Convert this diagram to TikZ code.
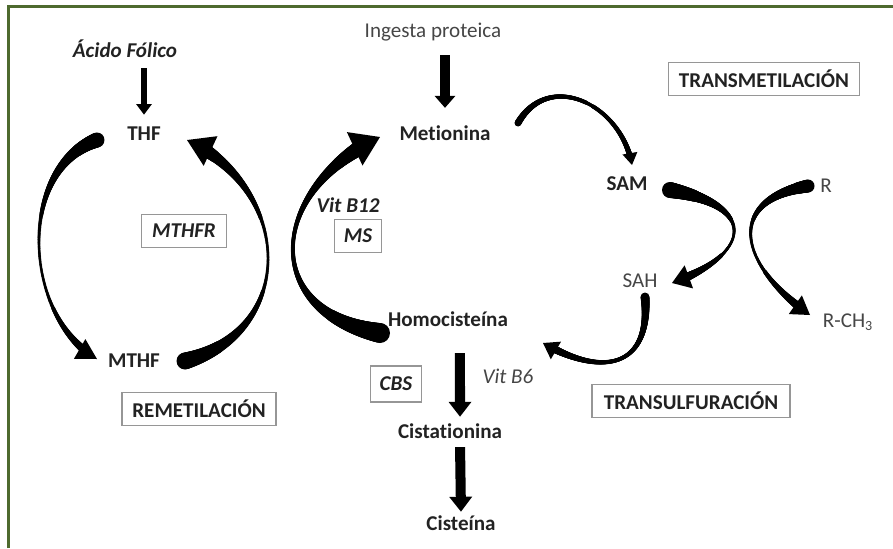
\documentclass[tikz,border=0pt]{standalone}
\usepackage{fontspec}
\setmainfont{Carlito}[Ligatures=CommonOff]
\usetikzlibrary{arrows.meta, calc}
\definecolor{framegreen}{RGB}{78,106,46}
\definecolor{labelink}{RGB}{34,34,34}
\definecolor{softink}{RGB}{70,70,70}
\definecolor{boxline}{RGB}{150,150,150}

% tapered body of a curved arrow along (#1a) .. (#1b) and (#1c) .. (#1d)
% widths in px: #2 start, #3 middle, #4 end; #5 last curve time
\newcommand{\taperarc}[5]{%
    \foreach \arcs in {0,0.003,...,#5}{%
        \pgfmathsetmacro\arcr{0.2845*max(1.2,(1-\arcs)^2*#2+2*\arcs*(1-\arcs)*(2*#3-0.5*(#2+#4))+\arcs^2*#4)}%
        \pgfpathcircle{\pgfpointcurveattime{\arcs}{\pgfpointanchor{#1a}{center}}{\pgfpointanchor{#1b}{center}}{\pgfpointanchor{#1c}{center}}{\pgfpointanchor{#1d}{center}}}{\arcr pt}%
        \pgfusepath{fill}%
    }%
}
% head of that arrow: #2 half width, #3 length
\newcommand{\taperhead}[3]{%
    \coordinate (#1base) at ($(#1d)!#3!(#1c)$);
    \fill ($(#1base)!#2!90:(#1d)$) -- (#1d) -- ($(#1base)!#2!-90:(#1d)$) -- cycle;
}

\begin{document}
\begin{tikzpicture}[x=0.02cm, y=-0.02cm,
    lbl/.style={font=\fontsize{12}{14}\selectfont\bfseries, text=labelink, inner sep=1pt, text height=9pt, text depth=2.5pt},
    emph/.style={lbl, font=\fontsize{12}{14}\selectfont\bfseries\itshape},
    plain/.style={lbl, font=\fontsize{12}{14}\selectfont, text=softink},
    tag/.style={draw=boxline, line width=0.7pt, font=\fontsize{12}{14}\selectfont\bfseries, text=labelink, inner xsep=2pt, minimum height=18.8pt},
    feed/.style={-{Triangle[length=8pt,width=12pt]}, line width=5.7pt}]

    \useasboundingbox (0,0) rectangle (893,548);
    % Frame
    \draw[framegreen, line width=1.7pt] (8.5,548) -- (8.5,6.5) -- (893,6.5);

    % Remetilacion
    \node[emph] (acido) at (125,52) {Ácido Fólico};
    \node[lbl] (thf) at (144,135) {THF};
    \node[lbl] (mthf) at (134,362) {MTHF};
    \node[tag, font=\fontsize{12}{14}\selectfont\bfseries\itshape, minimum width=48.4pt] (mthfr) at (184,231) {MTHFR};
    \node[tag, minimum width=87.6pt] (remet) at (199,409) {REMETILACIÓN};

    \draw[feed, line width=3.2pt, -{Triangle[length=6pt,width=8.5pt]}, shorten <=2.3pt, shorten >=4.6pt] (acido.south -| thf) -- (thf.north);

    \coordinate (thfarca) at ($(thf)+(-47,5)$);
    \coordinate (thfarcb) at ($(thfarca)+(-80.5,29.3)$);
    \coordinate (thfarcd) at ($(mthf)+(-37,-3)$);
    \coordinate (thfarcc) at ($(thfarcd)+(-74.2,-42.9)$);
    \taperarc{thfarc}{15}{3}{10}{0.96}
    \taperhead{thfarc}{6.5pt}{11.4pt}

    \coordinate (mthfarca) at ($(mthf)+(51,-1)$);
    \coordinate (mthfarcb) at ($(mthfarca)+(112.8,-30.2)$);
    \coordinate (mthfarcd) at ($(thf)+(43,5)$);
    \coordinate (mthfarcc) at ($(mthfarcd)+(105.9,49.4)$);
    \taperarc{mthfarc}{17}{3}{16}{0.95}
    \taperhead{mthfarc}{9.3pt}{14.8pt}

    % Metionina and Homocisteina
    \node[plain] (ingesta) at (433,32) {Ingesta proteica};
    \node[lbl] (met) at (445,135) {Metionina};
    \node[emph] (vitb12) at (348,207) {Vit B12};
    \node[tag, font=\fontsize{12}{14}\selectfont\bfseries\itshape, minimum width=26.7pt] (ms) at (358,236) {MS};
    \node[lbl] (homo) at (448,321) {Homocisteína};

    \draw[feed, -{Triangle[length=6.8pt,width=11.4pt]}, shorten <=6.3pt, shorten >=8.5pt] (ingesta.south -| met) -- (met.north);

    \coordinate (homoarca) at ($(homo)+(-68,12)$);
    \coordinate (homoarcb) at ($(homoarca)+(-120.9,-21.3)$);
    \coordinate (homoarcd) at ($(met)+(-65,2)$);
    \coordinate (homoarcc) at ($(homoarcd)+(-111.3,51.9)$);
    \taperarc{homoarc}{20}{4}{19}{0.94}
    \taperhead{homoarc}{10.5pt}{15.9pt}

    % Transulfuracion
    \node[tag, font=\fontsize{12}{14}\selectfont\bfseries\itshape, minimum width=29pt, minimum height=20.5pt] (cbs) at (396,384) {CBS};
    \node[plain, font=\fontsize{12}{14}\selectfont\itshape] (vitb6) at (508,378) {Vit B6};
    \node[lbl] (cist) at (450,433) {Cistationina};
    \node[lbl] (ciste) at (461,525) {Cisteína};
    \node[tag, minimum width=112.7pt] (transulf) at (691,401) {TRANSULFURACIÓN};

    \draw[feed, -{Triangle[length=8.5pt,width=12.5pt]}, shorten <=11.4pt, shorten >=2.3pt] ([xshift=6.8pt]homo.south) -- ([xshift=5.7pt]cist.north);
    \draw[feed, -{Triangle[length=8.5pt,width=12.5pt]}, shorten <=1.1pt, shorten >=0.6pt] ([xshift=5.7pt]cist.south) -- (ciste.north);

    % Transmetilacion
    \node[tag, minimum width=109pt] (transmet) at (764,79) {TRANSMETILACIÓN};
    \node[lbl] (sam) at (627,185) {SAM};
    \node[plain] (sah) at (640,282) {SAH};
    \node[plain] (rgroup) at (826,187) {R};
    \node[plain] (rch) at (848,322) {R-CH\textsubscript{3}};

    \coordinate (metarca) at ($(met)+(73,-12)$);
    \coordinate (metarcb) at ($(metarca)+(30.9,-53.5)$);
    \coordinate (metarcd) at ($(sam)+(5,-20)$);
    \coordinate (metarcc) at ($(metarcd)+(-10.7,-60.9)$);
    \taperarc{metarc}{7}{4}{6}{0.95}
    \taperhead{metarc}{4.3pt}{6.8pt}

    \coordinate (samarca) at ($(sam)+(43,5)$);
    \coordinate (samarcb) at ($(samarca)+(86.1,15.2)$);
    \coordinate (samarcd) at ($(sah)+(32,1)$);
    \coordinate (samarcc) at ($(samarcd)+(82.1,-29.9)$);
    \taperarc{samarc}{16}{3}{11}{0.94}
    \taperhead{samarc}{7pt}{10.2pt}

    \coordinate (rarca) at ($(rgroup)+(-18,-1)$);
    \coordinate (rarcb) at ($(rarca)+(-84.6,14.9)$);
    \coordinate (rarcd) at ($(rch)+(-38,-7)$);
    \coordinate (rarcc) at ($(rarcd)+(-70.4,-49.3)$);
    \taperarc{rarc}{13}{3}{10}{0.945}
    \taperhead{rarc}{6.5pt}{10.2pt}

    \coordinate (saharca) at ($(sah)+(5,15)$);
    \coordinate (saharcb) at ($(saharca)+(6.1,69.8)$);
    \coordinate (saharcd) at ($(homo)+(95,22)$);
    \coordinate (saharcc) at ($(saharcd)+(60.7,35.1)$);
    \taperarc{saharc}{9}{4}{9}{0.945}
    \taperhead{saharc}{5.8pt}{8.5pt}
\end{tikzpicture}
\end{document}
